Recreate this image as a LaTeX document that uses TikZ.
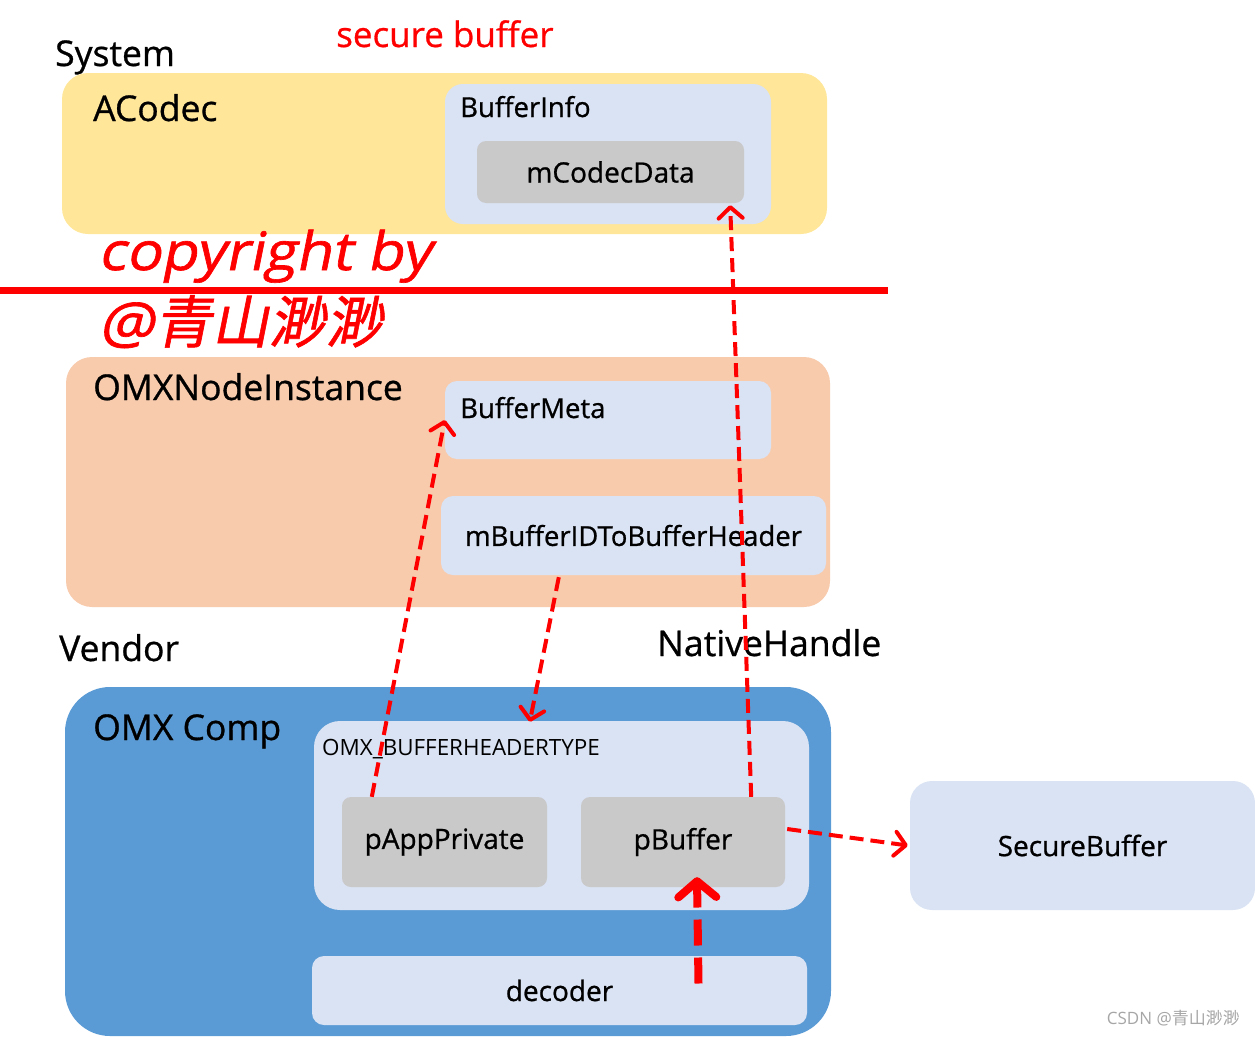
\documentclass[tikz,border=0pt]{standalone}
\usepackage{fontspec}
\setmainfont{Open Sans}
\newfontfamily\semifont[FakeBold=0.8]{Open Sans}
\newfontfamily\copyfont[FakeSlant=0.2,FakeStretch=1.1,FakeBold=1.2]{Open Sans}
\newfontfamily\cjkfont{Noto Sans CJK SC}
\newfontfamily\cjkslant[FakeSlant=0.2,FakeBold=1]{Noto Sans CJK SC}
\usetikzlibrary{calc,arrows.meta}

\definecolor{acodecyellow}{HTML}{FFE699}
\definecolor{omxpeach}{HTML}{F8CBAD}
\definecolor{compblue}{HTML}{5B9BD5}
\definecolor{paleblue}{HTML}{DAE3F3}
\definecolor{fieldgray}{HTML}{C9C9C9}
\definecolor{markgray}{HTML}{A6A6A6}

\tikzset{
  layer/.style={inner sep=0pt, rounded corners=26pt},
  inner/.style={fill=paleblue, inner sep=0pt, rounded corners=18pt},
  field/.style={fill=fieldgray, inner sep=0pt, rounded corners=9pt, font=\fontsize{28}{32}\semifont},
  heading/.style={anchor=base west, inner sep=0pt, font=\fontsize{35.5}{40}\semifont},
  sublabel/.style={anchor=base west, inner sep=0pt, font=\fontsize{27.5}{31}\semifont},
  redarrow/.style={draw=red, line width=4pt, dash pattern=on 14pt off 7pt,
    -{Straight Barb[length=11pt,width=24pt,line cap=round,line join=round]}},
}

\begin{document}
\begin{tikzpicture}[x=1pt,y=-1pt]
  \useasboundingbox (0,0) rectangle (1255,1036);
  %SYSTEM
  \node[heading] (system) at (55,66) {System};
  \node[heading, text=red, font=\fontsize{35}{40}\semifont] (secure) at (336,47) {secure buffer};
  %ACODEC
  \node[layer, fill=acodecyellow, minimum width=765pt, minimum height=161pt] (acodec) at (444.5,153.5) {};
  \node[heading] (acodecT) at (93,121) {ACodec};
  \node[inner, minimum width=326pt, minimum height=140pt] (bufinfo) at (608,154) {};
  \node[sublabel] (bufinfoT) at (460,117) {BufferInfo};
  \node[field, minimum width=267pt, minimum height=62pt] (codecdata) at (610.5,172) {mCodecData};
  %COPYRIGHT
  \node[anchor=base west, inner sep=0pt, text=red, font=\fontsize{53}{58}\copyfont] (copyT) at (98,270) {copyright by};
  \node[anchor=base west, inner sep=0pt, text=red, font=\fontsize{57}{62}\copyfont] (copyN) at (98,343) {@{\cjkslant 青山渺渺}};
  \coordinate (cutL) at (0,290);
  \coordinate (cutR) at (888,290);
  \draw[red, line width=7pt] (cutL) -- (cutR);
  %OMXNODEINSTANCE
  \node[layer, fill=omxpeach, minimum width=764pt, minimum height=250pt] (node) at (448,482) {};
  \node[heading] (nodeT) at (93,400) {OMXNodeInstance};
  \node[inner, rounded corners=12pt, minimum width=326pt, minimum height=78pt] (bufmeta) at (608,420) {};
  \node[sublabel] (bufmetaT) at (460,418) {BufferMeta};
  \node[inner, rounded corners=12pt, minimum width=385pt, minimum height=79pt, font=\fontsize{27.5}{31}\semifont] (idmap) at (633.5,535.5) {mBufferIDToBufferHeader};
  %VENDOR
  \node[heading] (vendor) at (59,661) {Vendor};
  \node[heading] (native) at (657,656) {NativeHandle};
  \node[layer, fill=compblue, rounded corners=45pt, minimum width=766pt, minimum height=349pt] (comp) at (448,861.5) {};
  \node[heading] (compT) at (93,740) {OMX Comp};
  \node[inner, rounded corners=26pt, minimum width=495pt, minimum height=189pt] (header) at (561.5,815.5) {};
  \node[anchor=base west, inner sep=0pt, font=\fontsize{22.4}{26}\selectfont] (headerT) at (322,755) {OMX\_BUFFERHEADERTYPE};
  \node[field, minimum width=205pt, minimum height=90pt] (papp) at (444.5,842) {pAppPrivate};
  \node[field, minimum width=204pt, minimum height=90pt] (pbuffer) at (683,842) {pBuffer};
  \node[inner, rounded corners=12pt, minimum width=495pt, minimum height=69pt, font=\fontsize{28}{32}\semifont] (decoder) at (559.5,990.5) {decoder};
  \node[inner, rounded corners=22pt, minimum width=345pt, minimum height=129pt, font=\fontsize{28}{32}\semifont] (securebuf) at (1082.5,845.5) {SecureBuffer};
  \node[anchor=base east, inner sep=0pt, text=markgray, font=\fontsize{17}{19}\selectfont] (mark) at (1240,1024) {CSDN @{\cjkfont 青山渺渺}};
  %ARROWS
  \draw[redarrow] ($(papp.north west)+(30,0)$) -- (bufmeta.west);
  \draw[redarrow] ($(idmap.south west)+(118,2)$) -- ($(header.north west)+(216,1)$);
  \draw[redarrow] ($(pbuffer.north east)+(-34,0)$) -- ($(codecdata.south east)+(-14,2)$);
  \draw[redarrow] ($(pbuffer.east)+(2,-13)$) -- ($(securebuf.west)+(-2,0)$);
  \draw[draw=red, line width=8pt, dash pattern=on 26pt off 12pt,
    -{Straight Barb[length=16pt,width=38pt,line cap=round,line join=round]}]
    ($(decoder.center)+(139,-7)$) -- ($(pbuffer.south)+(14,-10)$);
\end{tikzpicture}
\end{document}
